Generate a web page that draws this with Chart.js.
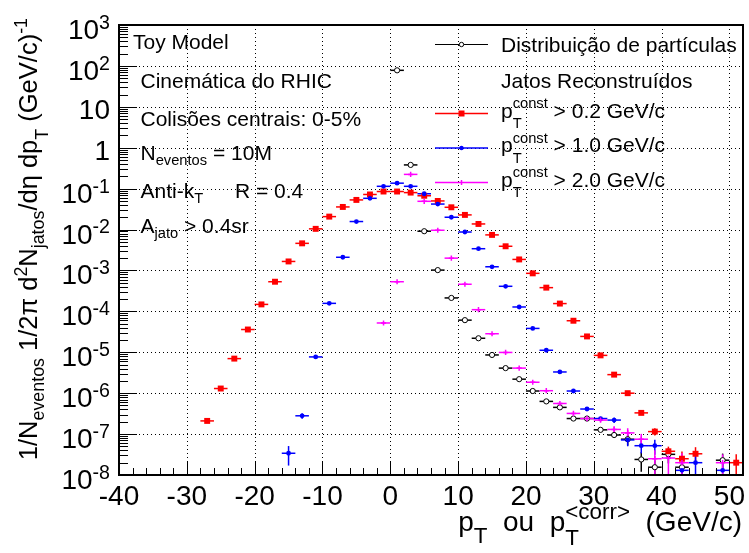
<!DOCTYPE html>
<html>
<head>
<meta charset="utf-8">
<script src="https://cdn.jsdelivr.net/npm/chart.js@4.4.1/dist/chart.umd.min.js"></script>
<style>
html,body{margin:0;padding:0;background:#fff;}
#c{display:block;}
</style>
</head>
<body>
<canvas id="c" width="749" height="553"></canvas>
<script>
// ---------------- data ----------------
const xTickValues = [-40, -30, -20, -10, 0, 10, 20, 30, 40, 50];
const xTickLabels = ['-40', '-30', '-20', '-10', '0', '10', '20', '30', '40', '50'];
const yTickExps = [3, 2, 1, 0, -1, -2, -3, -4, -5, -6, -7, -8];
const yTickBases = ['10', '10', '10', '1', '10', '10', '10', '10', '10', '10', '10', '10'];
const yTickSups = ['3', '2', '', '', '-1', '-2', '-3', '-4', '-5', '-6', '-7', '-8'];

// Distribuição de partículas (black open circles)
const xDist = [1, 3, 5, 7, 9, 11, 13, 15, 17, 19, 21, 23, 25, 27, 29, 31, 33, 35, 37, 39, 41, 43, 49];
const yDist = [78, 0.38, 9.1e-3, 1.02e-3, 2.13e-4, 6.1e-5, 2.2e-5, 8.6e-6, 4.1e-6, 2.2e-6, 1.13e-6, 6.3e-7, 4.5e-7,
               2.4e-7, 2.4e-7, 1.27e-7, 9.5e-8, 7.5e-8, 2.4e-8, 1.55e-8, 3.2e-8, 1.55e-8, 2.3e-8];
const eDist = [0, 0, 0, 0, 0, 0, 0, 0, 0, 0, 0, 0, 0, 0, 0, 0.08, 0.15, 0.3, 0.5, 0.5, 0.4, 0.5, 0.45];

// p_T^const > 0.2 GeV/c (red squares)
const xR02 = [-27, -25, -23, -21, -19, -17, -15, -13, -11, -9, -7, -5, -3, -1, 1, 3, 5, 7, 9, 11, 13, 15, 17, 19,
              21, 23, 25, 27, 29, 31, 33, 35, 37, 39, 41, 43, 45, 51];
const yR02 = [2.1e-7, 1.3e-6, 7.0e-6, 3.6e-5, 1.48e-4, 5.3e-4, 1.66e-3, 4.6e-3, 1.04e-2, 2.07e-2, 3.57e-2, 5.3e-2,
              7.2e-2, 8.5e-2, 8.5e-2, 8.0e-2, 6.7e-2, 5.0e-2, 3.5e-2, 2.28e-2, 1.37e-2, 7.4e-3, 3.9e-3, 1.86e-3,
              8.5e-4, 3.8e-4, 1.55e-4, 5.9e-5, 2.44e-5, 8.4e-6, 2.84e-6, 1.0e-6, 3.3e-7, 1.15e-7, 3.8e-8, 2.5e-8,
              3.3e-8, 2.0e-8];
const eR02 = [0.1, 0.04, 0, 0, 0, 0, 0, 0, 0, 0, 0, 0, 0, 0, 0, 0, 0, 0, 0, 0, 0, 0, 0, 0,
              0, 0, 0, 0, 0, 0, 0.03, 0.05, 0.1, 0.2, 0.3, 0.5, 0.45, 0.6];

// p_T^const > 1.0 GeV/c (blue circles)
const xR10 = [-15, -13, -11, -9, -7, -5, -3, -1, 1, 3, 5, 7, 9, 11, 13, 15, 17, 19, 21, 23, 25, 27, 29, 31, 33,
              35, 37, 39, 43, 45, 49];
const yR10 = [3.4e-8, 2.8e-7, 7.7e-6, 1.57e-4, 2.1e-3, 1.57e-2, 5.8e-2, 0.114, 0.136, 0.114, 7.5e-2, 4.2e-2, 2.0e-2,
              8.7e-3, 3.4e-3, 1.23e-3, 4.1e-4, 1.28e-4, 3.83e-5, 1.12e-5, 3.3e-6, 1.13e-6, 4.1e-7, 2.4e-7, 2.2e-7,
              7.2e-8, 5.2e-8, 5.2e-8, 1.3e-8, 2.0e-8, 1.3e-8];
const eR10 = [0.5, 0.15, 0.03, 0, 0, 0, 0, 0, 0, 0, 0, 0, 0, 0, 0, 0, 0, 0, 0, 0, 0, 0, 0.05, 0.1, 0.15,
              0.3, 0.35, 0.4, 0.6, 0.7, 0.6];

// p_T^const > 2.0 GeV/c (magenta crosses)
const xR20 = [-1, 1, 3, 5, 7, 9, 11, 13, 15, 17, 19, 21, 23, 25, 27, 29, 31, 33, 35, 37, 39, 41, 43, 49];
const yR20 = [5.2e-5, 5.3e-4, 0.223, 4.9e-2, 9.6e-3, 2.0e-3, 4.6e-4, 1.1e-4, 2.84e-5, 9.9e-6, 4.1e-6, 1.85e-6,
              1.15e-6, 5.6e-7, 3.2e-7, 2.4e-7, 2.2e-7, 1.3e-7, 1.07e-7, 7.5e-8, 2.5e-8, 2.6e-8, 2.0e-8, 2.0e-8];
const eR20 = [0.05, 0, 0, 0, 0, 0, 0, 0, 0, 0, 0, 0, 0, 0, 0.05, 0.08, 0.1, 0.2, 0.3, 0.35, 0.6, 0.7, 0.7, 0.6];

const binHalfWidth = 1;

// ---------------- styling ----------------
const FONT = '"Liberation Sans", Arial, Helvetica, sans-serif';
const X_MIN = -40, X_MAX = 52, Y_MIN = 1e-8, Y_MAX = 1e3;

const series = [
  {x: xDist, y: yDist, e: eDist, color: '#000000'},
  {x: xR02, y: yR02, e: eR02, color: '#ff0000'},
  {x: xR10, y: yR10, e: eR10, color: '#0000ff'},
  {x: xR20, y: yR20, e: eR20, color: '#ff00ff'}
];

function setFont(ctx, size) { ctx.font = size.toFixed(2) + 'px ' + FONT; }

// parts: {t, k:'n'|'sub'|'sup', sh?} or {k:'ss', sub, sup}
function drawRich(ctx, parts, x, y, size, align, smallFactor) {
  const small = size * (smallFactor || 0.7);
  const widths = parts.map(p => {
    if (p.k === 'ss') { setFont(ctx, small); return Math.max(ctx.measureText(p.sub).width, ctx.measureText(p.sup).width); }
    setFont(ctx, p.k === 'n' ? size : small);
    return ctx.measureText(p.t).width;
  });
  const total = widths.reduce((a, b) => a + b, 0);
  let cx = align === 'right' ? x - total : (align === 'center' ? x - total / 2 : x);
  ctx.textAlign = 'left';
  ctx.textBaseline = 'alphabetic';
  parts.forEach((p, i) => {
    if (p.k === 'ss') {
      setFont(ctx, small);
      ctx.fillText(p.sub, cx, y + size * 0.5);
      ctx.fillText(p.sup, cx, y - size * 0.43);
    } else if (p.k === 'sub') {
      setFont(ctx, small);
      ctx.fillText(p.t, cx, y + size * (p.sh !== undefined ? p.sh : 0.26));
    } else if (p.k === 'sup') {
      setFont(ctx, small);
      ctx.fillText(p.t, cx, y - size * (p.sh !== undefined ? p.sh : 0.4));
    } else {
      setFont(ctx, size);
      ctx.fillText(p.t, cx, y);
    }
    cx += widths[i];
  });
  return total;
}

function seg(ctx, x1, y1, x2, y2) { ctx.beginPath(); ctx.moveTo(x1, y1); ctx.lineTo(x2, y2); ctx.stroke(); }

const rootPlugin = {
  id: 'rootStyle',
  beforeDatasetsDraw(chart) {
    const {ctx, chartArea: a} = chart;
    const sx = chart.scales.x, sy = chart.scales.y;
    ctx.save();
    // dotted grid
    ctx.strokeStyle = '#000';
    ctx.lineWidth = 1;
    ctx.setLineDash([1, 3]);
    xTickValues.forEach(v => {
      if (v <= X_MIN || v >= X_MAX) return;
      const px = Math.round(sx.getPixelForValue(v)) + 0.5;
      seg(ctx, px, a.top, px, a.bottom);
    });
    yTickExps.forEach(e => {
      const v = Math.pow(10, e);
      if (e <= -8 || e >= 3) return;
      const py = Math.round(sy.getPixelForValue(v)) + 0.5;
      seg(ctx, a.left, py, a.right, py);
    });
    ctx.setLineDash([]);
    // error bars
    ctx.beginPath();
    ctx.rect(a.left, a.top, a.right - a.left, a.bottom - a.top);
    ctx.clip();
    ctx.lineWidth = 1.5;
    series.forEach(s => {
      ctx.strokeStyle = s.color;
      s.x.forEach((xv, i) => {
        const yv = s.y[i];
        const py = sy.getPixelForValue(yv);
        seg(ctx, sx.getPixelForValue(xv - binHalfWidth), py, sx.getPixelForValue(xv + binHalfWidth), py);
        const e = s.e[i];
        if (e > 0) {
          const lo = yv * (1 - e);
          const pyl = lo > 0 ? sy.getPixelForValue(lo) : a.bottom + 5;
          const pyh = sy.getPixelForValue(yv * (1 + e));
          const px = sx.getPixelForValue(xv);
          seg(ctx, px, pyl, px, pyh);
        }
      });
    });
    ctx.restore();
  },
  afterDatasetsDraw(chart) {
    const {ctx, chartArea: a} = chart;
    const sx = chart.scales.x, sy = chart.scales.y;
    ctx.save();
    ctx.strokeStyle = '#000';
    ctx.fillStyle = '#000';
    ctx.lineWidth = 1;
    // y ticks (inside)
    for (let e = -8; e <= 3; e++) {
      const py = Math.round(sy.getPixelForValue(Math.pow(10, e))) + 0.5;
      seg(ctx, a.left, py, a.left + 18, py);
      if (e < 3) {
        for (let m = 2; m <= 9; m++) {
          const pm = Math.round(sy.getPixelForValue(m * Math.pow(10, e))) + 0.5;
          seg(ctx, a.left, pm, a.left + 9, pm);
        }
      }
    }
    // x ticks (inside)
    for (let v = X_MIN; v <= X_MAX; v += 2) {
      const px = Math.round(sx.getPixelForValue(v)) + 0.5;
      const major = (v % 10 === 0);
      seg(ctx, px, a.bottom, px, a.bottom - (major ? 14 : 7));
    }
    // frame
    ctx.lineWidth = 2;
    ctx.strokeRect(a.left, a.top, a.right - a.left, a.bottom - a.top);

    // y tick labels
    yTickExps.forEach((e, i) => {
      const py = sy.getPixelForValue(Math.pow(10, e));
      const hasSup = yTickSups[i] !== '';
      const parts = [{t: yTickBases[i], k: 'n'}];
      if (hasSup) parts.push({t: yTickSups[i], k: 'sup', sh: 0.36});
      drawRich(ctx, parts, 110, py + (hasSup ? 14 : 12.5), 28, 'right');
    });
    // x tick labels
    xTickValues.forEach((v, i) => {
      const px = sx.getPixelForValue(v);
      drawRich(ctx, [{t: xTickLabels[i], k: 'n'}], px, 505, 28, 'center');
    });
    // x title
    drawRich(ctx, [
      {t: 'p', k: 'n'}, {t: 'T', k: 'sub', sh: 0.42}, {t: '  ou  p', k: 'n'},
      {k: 'ss', sub: 'T', sup: '<corr>'}, {t: '  (GeV/c)', k: 'n'}
    ], 742, 531, 28, 'right', 0.8);
    // y title (rotated)
    ctx.save();
    ctx.translate(37, 18);
    ctx.rotate(-Math.PI / 2);
    drawRich(ctx, [
      {t: '1/N', k: 'n'}, {t: 'eventos', k: 'sub'}, {t: ' 1/2\u03C0 d', k: 'n'}, {t: '2', k: 'sup'},
      {t: 'N', k: 'n'}, {t: 'jatos', k: 'sub'}, {t: '/d\u03B7 dp', k: 'n'}, {t: 'T', k: 'sub', sh: 0.42},
      {t: ' (GeV/c)', k: 'n'}, {t: '-1', k: 'sup'}
    ], 0, 0, 25.5, 'right');
    ctx.restore();

    // left text block
    const TS = 21;
    drawRich(ctx, [{t: 'Toy Model', k: 'n'}], 133, 48.5, TS, 'left');
    drawRich(ctx, [{t: 'Cinemática do RHIC', k: 'n'}], 140.5, 87.5, TS, 'left');
    drawRich(ctx, [{t: 'Colisões centrais: 0-5%', k: 'n'}], 140.5, 125.5, TS, 'left');
    drawRich(ctx, [{t: 'N', k: 'n'}, {t: 'eventos', k: 'sub'}, {t: ' = 10M', k: 'n'}], 140.5, 160, TS, 'left');
    drawRich(ctx, [{t: 'Anti-k', k: 'n'}, {t: 'T', k: 'sub'}], 140.5, 197.5, TS, 'left');
    drawRich(ctx, [{t: 'R = 0.4', k: 'n'}], 235, 197.5, TS, 'left');
    drawRich(ctx, [{t: 'A', k: 'n'}, {t: 'jato', k: 'sub'}, {t: ' > 0.4sr', k: 'n'}], 140.5, 232.5, TS, 'left');

    // legend
    const LX0 = 435, LX1 = 488, LM = 461.5, LT = 501;
    const rows = [
      {y: 44.5, color: '#000', marker: 'open', base: 51.5, parts: [{t: 'Distribuição de partículas', k: 'n'}]},
      {y: null, base: 88, parts: [{t: 'Jatos Reconstruídos', k: 'n'}]},
      {y: 113.5, color: '#ff0000', marker: 'square', base: 117.5,
       parts: [{t: 'p', k: 'n'}, {k: 'ss', sub: 'T', sup: 'const'}, {t: ' > 0.2 GeV/c', k: 'n'}]},
      {y: 148, color: '#0000ff', marker: 'circle', base: 152,
       parts: [{t: 'p', k: 'n'}, {k: 'ss', sub: 'T', sup: 'const'}, {t: ' > 1.0 GeV/c', k: 'n'}]},
      {y: 182.5, color: '#ff00ff', marker: 'cross', base: 186.5,
       parts: [{t: 'p', k: 'n'}, {k: 'ss', sub: 'T', sup: 'const'}, {t: ' > 2.0 GeV/c', k: 'n'}]}
    ];
    rows.forEach(r => {
      if (r.y !== null) {
        ctx.strokeStyle = r.color;
        ctx.fillStyle = r.color;
        ctx.lineWidth = r.color === '#000' ? 1 : 1.5;
        seg(ctx, LX0, r.y, LX1, r.y);
        if (r.marker === 'open') {
          ctx.beginPath(); ctx.arc(LM, r.y, 2.2, 0, Math.PI * 2);
          ctx.fillStyle = '#fff'; ctx.fill(); ctx.lineWidth = 1; ctx.stroke();
        } else if (r.marker === 'square') {
          ctx.fillRect(LM - 3, r.y - 3, 6, 6);
        } else if (r.marker === 'circle') {
          ctx.beginPath(); ctx.arc(LM, r.y, 2.2, 0, Math.PI * 2); ctx.fill();
        } else if (r.marker === 'cross') {
          ctx.lineWidth = 1.5; seg(ctx, LM, r.y - 2.5, LM, r.y + 2.5);
        }
      }
      ctx.fillStyle = '#000';
      drawRich(ctx, r.parts, LT, r.base, 21, 'left');
    });
    ctx.restore();
  }
};

const pts = (xs, ys) => xs.map((x, i) => ({x: x, y: ys[i]}));

new Chart(document.getElementById('c').getContext('2d'), {
  type: 'scatter',
  data: {
    datasets: [
      {label: 'Distribuição de partículas', data: pts(xDist, yDist), pointStyle: 'circle', pointRadius: 2.6,
       pointBorderWidth: 1, pointBorderColor: '#000', pointBackgroundColor: '#fff', order: 3},
      {label: 'pT const > 0.2 GeV/c', data: pts(xR02, yR02), pointStyle: 'rect', pointRadius: 4.2,
       pointBorderWidth: 0, pointBorderColor: '#ff0000', pointBackgroundColor: '#ff0000', order: 2},
      {label: 'pT const > 1.0 GeV/c', data: pts(xR10, yR10), pointStyle: 'circle', pointRadius: 2.4,
       pointBorderWidth: 0, pointBorderColor: '#0000ff', pointBackgroundColor: '#0000ff', order: 1},
      {label: 'pT const > 2.0 GeV/c', data: pts(xR20, yR20), pointStyle: 'cross', pointRadius: 2.6,
       pointBorderWidth: 1.5, pointBorderColor: '#ff00ff', pointBackgroundColor: '#ff00ff', order: 0}
    ]
  },
  options: {
    responsive: false,
    animation: false,
    devicePixelRatio: 1,
    events: [],
    layout: {padding: {left: 119, right: 6, top: 25, bottom: 78}},
    scales: {
      x: {type: 'linear', min: X_MIN, max: X_MAX, display: false},
      y: {type: 'logarithmic', min: Y_MIN, max: Y_MAX, display: false}
    },
    plugins: {legend: {display: false}, tooltip: {enabled: false}}
  },
  plugins: [rootPlugin]
});
</script>
</body>
</html>
